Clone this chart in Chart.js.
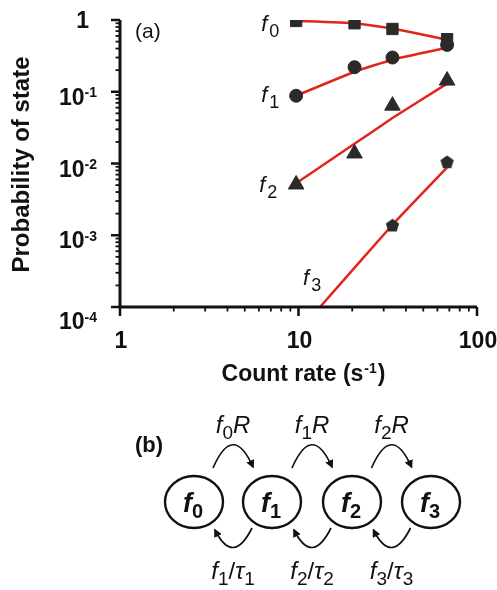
<!DOCTYPE html>
<html>
<head>
<meta charset="utf-8">
<script src="https://cdn.jsdelivr.net/npm/chart.js@4.4.1/dist/chart.umd.min.js"></script>
<style>
  html, body { margin: 0; padding: 0; background: #fff; }
  .wrap { position: relative; width: 497px; height: 590px; }
  #chart { position: absolute; left: 0; top: 0; }
  #scheme { position: absolute; left: 0; top: 400px; }
  #scheme text { font-family: "Liberation Sans", Arial, sans-serif; fill: #111; }
</style>
</head>
<body>
<div class="wrap">
  <canvas id="chart" width="497" height="590"></canvas>

  <!-- (b) schéma des états -->
  <svg id="scheme" width="497" height="190" viewBox="0 0 497 190">
    <defs>
      <marker id="head" viewBox="0 0 10 10" refX="8" refY="5" markerWidth="5" markerHeight="5" orient="auto">
        <path d="M0,0 L10,5 L0,10 z" fill="#111"/>
      </marker>
    </defs>
    <text x="135" y="52" font-size="22" font-weight="bold">(b)</text>
    <g id="states"></g>
  </svg>
</div>

<script>
// Données (a)
const countRate = [9.7, 20.6, 33.6, 68];
const f0Values  = [0.97, 0.90, 0.75, 0.54];
const f1Values  = [0.088, 0.22, 0.30, 0.45];
const f2Values  = [0.0051, 0.0138, 0.064, 0.143];
const f3Rate    = [33.6, 68];
const f3Values  = [0.0014, 0.0107];

// Courbes rouges (modèle), lues point par point
const fitRate   = [9.7, 20.6, 33.6, 68];
const f0Fit     = [0.97, 0.90, 0.76, 0.53];
const f1Fit     = [0.088, 0.19, 0.28, 0.41];
const f2Fit     = [0.0053, 0.0188, 0.043, 0.13];
const f3FitRate = [13.2, 33.6, 68];
const f3Fit     = [0.0001, 0.0014, 0.0088];

// Graduations
const xTicks = [1, 10, 100];
const yTicks = [1, 1e-1, 1e-2, 1e-3, 1e-4];
const yTickExp = ['', '-1', '-2', '-3', '-4'];

// Schéma (b)
const stateNames = ['0', '1', '2', '3'];
const upLabels   = ['0', '1', '2'];      // f_iR
const downLabels = ['1', '2', '3'];      // f_i/τ_i

const FONT  = '"Liberation Sans", Arial, sans-serif';
const INK   = '#111';
const MARK  = '#2a2a2a';
const RED   = '#e3241b';

const pts = (xs, ys) => xs.map((x, i) => ({ x, y: ys[i] }));

// Pentagone pour f3 (Chart.js n'en a pas)
function pentagon(size, color) {
  const c = document.createElement('canvas');
  c.width = size; c.height = size;
  const g = c.getContext('2d');
  const r = size / 2 - 0.5, cx = size / 2, cy = size / 2 + 1;
  g.beginPath();
  for (let i = 0; i < 5; i++) {
    const a = -Math.PI / 2 + i * 2 * Math.PI / 5;
    g.lineTo(cx + r * Math.cos(a), cy + r * Math.sin(a));
  }
  g.closePath();
  g.fillStyle = color;
  g.fill();
  return c;
}

function fitSet(data) {
  return {
    data, showLine: true, borderColor: RED, borderWidth: 2.5,
    pointRadius: 0, fill: false, tension: 0.12, order: 2
  };
}
function markSet(data, style, radius) {
  return {
    data, showLine: false, pointStyle: style, pointRadius: radius,
    backgroundColor: MARK, borderColor: MARK, borderWidth: 1, order: 1
  };
}

// Texte avec exposant / indice
function drawSup(ctx, base, sup, xRight, baseline, size) {
  ctx.font = `bold ${size}px ${FONT}`;
  const wb = ctx.measureText(base).width;
  ctx.font = `bold ${Math.round(size * 0.62)}px ${FONT}`;
  const ws = ctx.measureText(sup).width;
  ctx.textAlign = 'left';
  ctx.fillText(sup, xRight - ws, baseline - size * 0.32);
  ctx.font = `bold ${size}px ${FONT}`;
  ctx.fillText(base, xRight - ws - wb, baseline);
}
function drawSub(ctx, x, baseline, idx) {
  ctx.textAlign = 'left';
  ctx.font = `italic 22px ${FONT}`;
  ctx.fillText('f', x, baseline);
  const w = ctx.measureText('f').width;
  ctx.font = `18px ${FONT}`;
  ctx.fillText(idx, x + w + 2, baseline + 6);
}

const axesPlugin = {
  id: 'axesPlugin',
  afterDraw(chart) {
    const { ctx, chartArea: a, scales: { x, y } } = chart;
    ctx.save();
    ctx.strokeStyle = INK;
    ctx.fillStyle = INK;

    // Axes
    ctx.lineWidth = 3;
    ctx.beginPath();
    ctx.moveTo(a.left, a.top);
    ctx.lineTo(a.left, a.bottom);
    ctx.lineTo(a.right, a.bottom);
    ctx.stroke();

    // Graduations majeures et mineures (vers l'extérieur)
    const minors = [2, 3, 4, 5, 6, 7, 8, 9];
    ctx.lineWidth = 2.5;
    yTicks.forEach(v => {
      const py = y.getPixelForValue(v);
      ctx.beginPath(); ctx.moveTo(a.left, py); ctx.lineTo(a.left - 9, py); ctx.stroke();
    });
    xTicks.forEach(v => {
      const px = x.getPixelForValue(v);
      ctx.beginPath(); ctx.moveTo(px, a.bottom); ctx.lineTo(px, a.bottom + 9); ctx.stroke();
    });
    ctx.lineWidth = 1.8;
    yTicks.slice(1).forEach(v => {
      minors.forEach(m => {
        const py = y.getPixelForValue(v * m);
        ctx.beginPath(); ctx.moveTo(a.left, py); ctx.lineTo(a.left - 4.5, py); ctx.stroke();
      });
    });
    xTicks.slice(0, -1).forEach(v => {
      minors.forEach(m => {
        const px = x.getPixelForValue(v * m);
        ctx.beginPath(); ctx.moveTo(px, a.bottom); ctx.lineTo(px, a.bottom + 4.5); ctx.stroke();
      });
    });

    // Libellés de l'axe Y
    yTicks.forEach((v, i) => {
      const py = y.getPixelForValue(v);
      if (!yTickExp[i]) {
        ctx.font = `bold 23px ${FONT}`;
        ctx.textAlign = 'right';
        ctx.fillText('1', 89, py + 8);
      } else {
        const off = (i === yTicks.length - 1) ? 22 : 13;
        drawSup(ctx, '10', yTickExp[i], 97, py + off, 23);
      }
    });

    // Libellés de l'axe X
    ctx.font = `bold 23px ${FONT}`;
    ctx.textAlign = 'center';
    xTicks.forEach(v => {
      ctx.fillText(String(v), x.getPixelForValue(v) + 1, a.bottom + 41);
    });

    // Titre X avec exposant
    const xt1 = 'Count rate (s', xt2 = '-1', xt3 = ')';
    ctx.font = `bold 23px ${FONT}`;
    const w1 = ctx.measureText(xt1).width, w3 = ctx.measureText(xt3).width;
    ctx.font = `bold 14px ${FONT}`;
    const w2 = ctx.measureText(xt2).width;
    let tx = (a.left + a.right) / 2 + 4 - (w1 + w2 + w3) / 2;
    const tb = a.bottom + 74;
    ctx.textAlign = 'left';
    ctx.font = `bold 23px ${FONT}`;
    ctx.fillText(xt1, tx, tb);
    ctx.font = `bold 14px ${FONT}`;
    ctx.fillText(xt2, tx + w1 + 1, tb - 8);
    ctx.font = `bold 23px ${FONT}`;
    ctx.fillText(xt3, tx + w1 + w2 + 2, tb);

    // Titre Y
    ctx.save();
    ctx.translate(29, (a.top + a.bottom) / 2 + 1);
    ctx.rotate(-Math.PI / 2);
    ctx.font = `bold 24px ${FONT}`;
    ctx.textAlign = 'center';
    ctx.fillText('Probability of state', 0, 0);
    ctx.restore();

    // (a)
    ctx.font = `21px ${FONT}`;
    ctx.textAlign = 'left';
    ctx.fillText('(a)', a.left + 15, a.top + 18);

    // Étiquettes des courbes, placées d'après le premier point
    const x0 = x.getPixelForValue(countRate[0]) - 35;
    drawSub(ctx, x0, y.getPixelForValue(f0Values[0]) + 10, '0');
    drawSub(ctx, x0, y.getPixelForValue(f1Values[0]) + 6, '1');
    drawSub(ctx, x0 - 2, y.getPixelForValue(f2Values[0]) + 8, '2');
    drawSub(ctx, x.getPixelForValue(f3FitRate[0]) - 17, a.bottom - 22, '3');

    ctx.restore();
  }
};

new Chart(document.getElementById('chart'), {
  type: 'scatter',
  data: {
    datasets: [
      markSet(pts(countRate, f0Values), 'rect', 8),
      markSet(pts(countRate, f1Values), 'circle', 6.5),
      markSet(pts(countRate, f2Values), 'triangle', 9),
      markSet(pts(f3Rate, f3Values), pentagon(15, MARK), 7),
      fitSet(pts(fitRate, f0Fit)),
      fitSet(pts(fitRate, f1Fit)),
      fitSet(pts(fitRate, f2Fit)),
      fitSet(pts(f3FitRate, f3Fit))
    ]
  },
  options: {
    responsive: false,
    animation: false,
    devicePixelRatio: 1,
    layout: { padding: { left: 120, right: 20, top: 20, bottom: 283 } },
    plugins: { legend: { display: false }, tooltip: { enabled: false } },
    scales: {
      x: { type: 'logarithmic', min: 1, max: 100, display: false },
      y: { type: 'logarithmic', min: 1e-4, max: 1, display: false }
    }
  },
  plugins: [axesPlugin]
});

// Construction du schéma (b)
const NS = 'http://www.w3.org/2000/svg';
const g = document.getElementById('states');
const cxs = [194, 272, 352, 431];
const cy = 102;

function el(name, attrs, parent) {
  const e = document.createElementNS(NS, name);
  Object.entries(attrs).forEach(([k, v]) => e.setAttribute(k, v));
  (parent || g).appendChild(e);
  return e;
}
function label(x, y, idx, size, subSize, bold, tail) {
  const t = el('text', { x, y, 'text-anchor': 'middle', 'font-size': size, 'font-weight': bold ? 'bold' : 'normal' });
  const f = el('tspan', { 'font-style': 'italic' }, t); f.textContent = 'f';
  const s = el('tspan', { dy: 6, 'font-size': subSize }, t); s.textContent = idx;
  if (tail) tail(t);
  return t;
}

stateNames.forEach((n, i) => {
  el('ellipse', { cx: cxs[i], cy, rx: 29, ry: 26, fill: 'none', stroke: INK, 'stroke-width': 2.4 });
  label(cxs[i] - 1, cy + 10, n, 27, 20, true);
});

upLabels.forEach((n, i) => {
  const m = (cxs[i] + cxs[i + 1]) / 2;
  el('path', { d: `M${m - 20} 68 Q${m} 22 ${m + 20} 67`, fill: 'none', stroke: INK, 'stroke-width': 1.7, 'marker-end': 'url(#head)' });
  label(m, 33, n, 24, 19, false, t => {
    const r = el('tspan', { dy: -6, 'font-style': 'italic' }, t); r.textContent = 'R';
  });
});

downLabels.forEach((n, i) => {
  const m = (cxs[i] + cxs[i + 1]) / 2;
  el('path', { d: `M${m + 19} 128 Q${m} 166 ${m - 18} 130`, fill: 'none', stroke: INK, 'stroke-width': 1.7, 'marker-end': 'url(#head)' });
  label(m, 179, n, 24, 19, false, t => {
    const s1 = el('tspan', { dy: -6 }, t); s1.textContent = '/';
    const s2 = el('tspan', { 'font-style': 'italic' }, t); s2.textContent = 'τ';
    const s3 = el('tspan', { dy: 6, 'font-size': 19 }, t); s3.textContent = n;
  });
});
</script>
</body>
</html>
